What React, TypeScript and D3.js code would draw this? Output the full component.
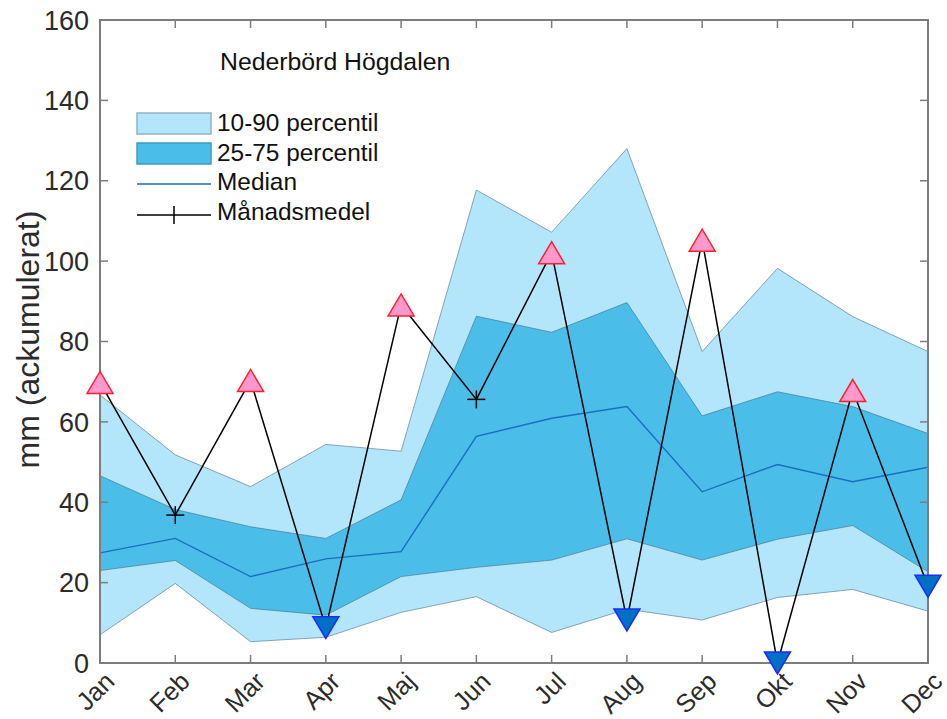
import React from "react";
import * as d3 from "d3";

const months = ["Jan", "Feb", "Mar", "Apr", "Maj", "Jun", "Jul", "Aug", "Sep", "Okt", "Nov", "Dec"];
const p10 = [7.0, 19.8, 5.3, 6.4, 12.6, 16.5, 7.6, 13.4, 10.7, 16.3, 18.3, 12.9];
const p90 = [66.7, 51.8, 43.9, 54.4, 52.7, 117.7, 107.2, 128.0, 77.5, 98.2, 86.2, 77.5];
const p25 = [23.0, 25.5, 13.6, 11.9, 21.5, 23.8, 25.6, 30.9, 25.6, 30.8, 34.2, 22.7];
const p75 = [46.6, 38.2, 33.9, 31.0, 40.6, 86.3, 82.3, 89.7, 61.5, 67.5, 63.8, 57.1];
const median = [27.4, 31.0, 21.5, 25.9, 27.7, 56.4, 60.9, 63.8, 42.6, 49.4, 45.1, 48.7];
const monthlyMean = [69.8, 36.8, 70.3, 8.8, 89.1, 65.6, 102.1, 10.7, 105.2, 0.0, 67.8, 19.1];
const yTicks = [0, 20, 40, 60, 80, 100, 120, 140, 160];

const W = 947, H = 719;
const L = 100, R = 928, T = 20, B = 663;
const FONT = "'Liberation Sans', Arial, Helvetica, sans-serif";
const LIGHT = "#b3e6fb";
const DARK = "#4bbde9";
const EDGE = "rgba(60,100,120,0.55)";
const MEDIAN = "#1a6ec2";
const AXIS = "#7d7d7d";
const TEXT = "#2b2b2b";

export default function App() {
  const x = d3.scalePoint<string>().domain(months).range([L, R]);
  const y = d3.scaleLinear().domain([0, 160]).range([B, T]);
  const idx = months.map((_, i) => i);

  const band = (lo: number[], hi: number[]) =>
    d3.area<number>().x((i) => x(months[i])!).y0((i) => y(lo[i])).y1((i) => y(hi[i]))(idx) || "";
  const line = (v: number[]) => d3.line<number>().x((i) => x(months[i])!).y((i) => y(v[i]))(idx) || "";

  const tw = 13, th = 11;
  const upTri = (cx: number, cy: number) => `M${cx - tw},${cy + th}L${cx + tw},${cy + th}L${cx},${cy - th}Z`;
  const dnTri = (cx: number, cy: number) => `M${cx - tw},${cy - th}L${cx + tw},${cy - th}L${cx},${cy + th}Z`;

  return (
    <svg width={W} height={H} style={{ position: "absolute", left: 0, top: 0, background: "#fff" }} fontFamily={FONT}>
      <path d={band(p10, p90)} fill={LIGHT} stroke={EDGE} strokeWidth={1} />
      <path d={band(p25, p75)} fill={DARK} stroke={EDGE} strokeWidth={1} />
      <path d={line(median)} fill="none" stroke={MEDIAN} strokeWidth={1.4} />
      <path d={line(monthlyMean)} fill="none" stroke="#000" strokeWidth={1.5} />

      <rect x={L} y={T} width={R - L} height={B - T} fill="none" stroke={AXIS} strokeWidth={2} />
      {months.map((m) => (
        <g key={m}>
          <line x1={x(m)} x2={x(m)} y1={B} y2={B - 8} stroke={AXIS} strokeWidth={1.5} />
          <line x1={x(m)} x2={x(m)} y1={T} y2={T + 8} stroke={AXIS} strokeWidth={1.5} />
          <text
            transform={`translate(${x(m)! + 16},${B + 20}) rotate(-45)`}
            textAnchor="end"
            fontSize={25.5}
            fill={TEXT}
          >
            {m}
          </text>
        </g>
      ))}
      {yTicks.map((t) => (
        <g key={t}>
          <line x1={L} x2={L + 8} y1={y(t)} y2={y(t)} stroke={AXIS} strokeWidth={1.5} />
          <line x1={R} x2={R - 8} y1={y(t)} y2={y(t)} stroke={AXIS} strokeWidth={1.5} />
          <text x={L - 11} y={y(t)} dy="0.36em" textAnchor="end" fontSize={27} fill={TEXT}>
            {t}
          </text>
        </g>
      ))}
      <text transform={`translate(39,${(T + B) / 2 - 2}) rotate(-90)`} textAnchor="middle" fontSize={32} fill={TEXT}>
        mm (ackumulerat)
      </text>

      {monthlyMean.map((v, i) => {
        const cx = x(months[i])!, cy = y(v);
        if (v > p75[i]) return <path key={i} d={upTri(cx, cy)} fill="#ff99cc" stroke="#ff2030" strokeWidth={1.5} />;
        if (v < p25[i]) return <path key={i} d={dnTri(cx, cy)} fill="#0070c4" stroke="#1a2cff" strokeWidth={1.5} />;
        return (
          <g key={i} stroke="#000" strokeWidth={1.5}>
            <line x1={cx - 9} x2={cx + 9} y1={cy} y2={cy} />
            <line x1={cx} x2={cx} y1={cy - 9} y2={cy + 9} />
          </g>
        );
      })}

      <text x={220} y={70} fontSize={24.8} fill="#111">Nederbörd Högdalen</text>
      <rect x={137} y={113} width={74} height={21} fill={LIGHT} stroke="#8fb4c6" strokeWidth={1.5} />
      <rect x={137} y={143} width={74} height={21} fill={DARK} stroke="#3f9cc4" strokeWidth={1.5} />
      <line x1={137} x2={211} y1={184} y2={184} stroke={MEDIAN} strokeWidth={1.5} />
      <line x1={137} x2={211} y1={215} y2={215} stroke="#000" strokeWidth={1.5} />
      <line x1={174} x2={174} y1={206} y2={224} stroke="#000" strokeWidth={1.5} />
      {["10-90 percentil", "25-75 percentil", "Median", "Månadsmedel"].map((s, i) => (
        <text key={s} x={217} y={131 + i * 29.7} fontSize={24.4} fill="#111">
          {s}
        </text>
      ))}
    </svg>
  );
}
